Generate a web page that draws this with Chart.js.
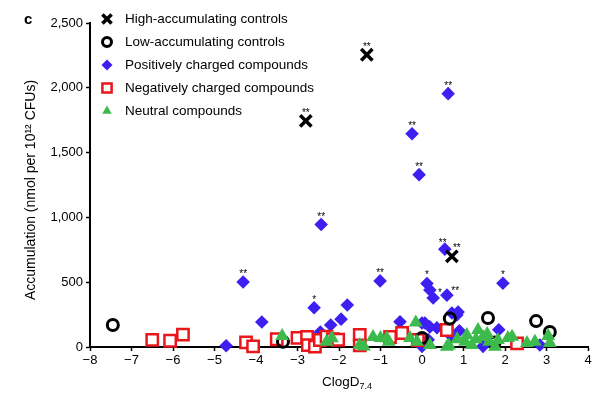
<!DOCTYPE html>
<html>
<head>
<meta charset="utf-8">
<script src="https://cdn.jsdelivr.net/npm/chart.js@4.4.0/dist/chart.umd.min.js"></script>
<style>
html, body { margin: 0; padding: 0; background: #fff; }
#wrap { width: 604px; height: 397px; position: relative; }
</style>
</head>
<body>
<div id="wrap"><canvas id="myChart"></canvas></div>
<script>
// axis ticks
var xTicks = [-8, -7, -6, -5, -4, -3, -2, -1, 0, 1, 2, 3, 4];
var yTicks = [0, 500, 1000, 1500, 2000, 2500];

// series (x = ClogD7.4, y = accumulation)
var highCtrl = [
    {x: -2.8, y: 1745}, {x: -1.33, y: 2255}, {x: 0.72, y: 700}
];
var lowCtrl = [
    {x: -7.45, y: 170}, {x: -3.35, y: 40}, {x: 0.0, y: 70}, {x: 0.67, y: 220},
    {x: 1.59, y: 224}, {x: 1.75, y: 35}, {x: 2.75, y: 200}, {x: 3.08, y: 116}
];
var positive = [
    {x: -4.72, y: 10}, {x: -4.31, y: 502}, {x: -3.86, y: 193}, {x: -2.7, y: 0},
    {x: -2.6, y: 303}, {x: -2.45, y: 115}, {x: -2.43, y: 945}, {x: -2.2, y: 170},
    {x: -1.95, y: 215}, {x: -1.8, y: 324}, {x: -1.01, y: 510}, {x: -0.53, y: 195},
    {x: -0.24, y: 1645}, {x: -0.07, y: 1330}, {x: 0.0, y: 185}, {x: 0.0, y: 5},
    {x: 0.07, y: 185}, {x: 0.12, y: 490}, {x: 0.15, y: 55}, {x: 0.19, y: 440},
    {x: 0.19, y: 155}, {x: 0.27, y: 378}, {x: 0.36, y: 148}, {x: 0.55, y: 755},
    {x: 0.6, y: 400}, {x: 0.63, y: 1955}, {x: 0.72, y: 262}, {x: 0.84, y: 247},
    {x: 0.87, y: 270}, {x: 0.72, y: 80}, {x: 0.9, y: 125}, {x: 1.47, y: 5},
    {x: 1.85, y: 133}, {x: 1.95, y: 492}, {x: 2.84, y: 15}
];
var negative = [
    {x: -6.5, y: 55}, {x: -6.07, y: 48}, {x: -5.76, y: 95}, {x: -4.24, y: 35},
    {x: -4.07, y: 5}, {x: -3.5, y: 60}, {x: -3.0, y: 70}, {x: -2.77, y: 77},
    {x: -2.75, y: 15}, {x: -2.58, y: 3}, {x: -2.46, y: 54}, {x: -2.3, y: 80},
    {x: -2.15, y: 60}, {x: -2.02, y: 56}, {x: -1.5, y: 93}, {x: -1.5, y: 12},
    {x: -0.77, y: 77}, {x: -0.48, y: 108}, {x: -0.1, y: 54}, {x: 0.6, y: 131},
    {x: 2.29, y: 28}
];
var neutral = [
    {x: -3.37, y: 85}, {x: -2.3, y: 40}, {x: -2.17, y: 68}, {x: -1.5, y: 15},
    {x: -1.4, y: 3}, {x: -1.18, y: 77}, {x: -1.0, y: 70}, {x: -0.85, y: 68},
    {x: -0.8, y: 40}, {x: -0.29, y: 70}, {x: -0.15, y: 190}, {x: -0.12, y: 40},
    {x: 0.19, y: 15}, {x: 0.6, y: 2}, {x: 0.65, y: 12}, {x: 1.04, y: 40},
    {x: 1.08, y: 93}, {x: 1.2, y: 15}, {x: 1.3, y: 60}, {x: 1.35, y: 131},
    {x: 1.47, y: 77}, {x: 1.57, y: 100}, {x: 1.62, y: 40}, {x: 1.76, y: 2},
    {x: 1.83, y: 54}, {x: 2.07, y: 70}, {x: 2.17, y: 80}, {x: 2.53, y: 31},
    {x: 2.72, y: 40}, {x: 3.04, y: 85}, {x: 3.08, y: 31}, {x: 0.85, y: 60}
];

// significance marks, anchored at the point they belong to
var stars = [
    {x: -1.33, y: 2255, t: '**'}, {x: -2.8, y: 1745, t: '**'}, {x: 0.84, y: 700, t: '**'},
    {x: 0.63, y: 1955, t: '**'}, {x: -0.24, y: 1645, t: '**'}, {x: -0.07, y: 1330, t: '**'},
    {x: -2.43, y: 945, t: '**'}, {x: 0.5, y: 740, t: '**'}, {x: -4.31, y: 502, t: '**'},
    {x: -1.01, y: 510, t: '**'}, {x: -2.6, y: 303, t: '*'}, {x: 0.12, y: 490, t: '*'},
    {x: 0.43, y: 355, t: '*'}, {x: 0.8, y: 370, t: '**'}, {x: 1.95, y: 492, t: '*'}
];

var FONT = '"Liberation Sans", Arial, Helvetica, sans-serif';
var BLUE = '#3d1ff2', RED = '#e8171c', GREEN = '#3cbb4c';

var datasets = [
    {label: 'High-accumulating controls', data: highCtrl, pointStyle: 'crossRot',
     pointRadius: 8, borderColor: '#000', backgroundColor: '#000', pointBorderWidth: 3.5, order: 0},
    {label: 'Low-accumulating controls', data: lowCtrl, pointStyle: 'circle',
     pointRadius: 5.5, borderColor: '#000', backgroundColor: 'rgba(255,255,255,0)', pointBorderWidth: 3, order: 2},
    {label: 'Positively charged compounds', data: positive, pointStyle: 'rectRot',
     pointRadius: 6.8, borderColor: BLUE, backgroundColor: BLUE, pointBorderWidth: 0, order: 4},
    {label: 'Negatively charged compounds', data: negative, pointStyle: 'rect',
     pointRadius: 8, borderColor: RED, backgroundColor: '#fff', pointBorderWidth: 2.5, order: 3},
    {label: 'Neutral compounds', data: neutral, pointStyle: 'triangle',
     pointRadius: 8, borderColor: GREEN, backgroundColor: GREEN, pointBorderWidth: 0, order: 1}
];
datasets.forEach(function (ds) { ds.clip = false; });

var extras = {
    id: 'extras',
    afterDatasetsDraw: function (chart) {
        var ctx = chart.ctx, xs = chart.scales.x, ys = chart.scales.y;
        ctx.save();
        ctx.fillStyle = '#000';
        ctx.font = '10px ' + FONT;
        ctx.textAlign = 'center';
        ctx.textBaseline = 'alphabetic';
        stars.forEach(function (s) {
            ctx.fillText(s.t, xs.getPixelForValue(s.x), ys.getPixelForValue(s.y) - 5);
        });
        ctx.restore();
    },
    afterDraw: function (chart) {
        var ctx = chart.ctx, area = chart.chartArea;
        ctx.save();
        // legend
        var lx = area.left + 17, ly = area.top - 4;
        ctx.font = '13.5px ' + FONT;
        ctx.textBaseline = 'middle';
        ctx.textAlign = 'left';
        var legendSizes = [6.5, 4.5, 5.5, 6.5, 5.5];
        datasets.forEach(function (ds, i) {
            var y = ly + i * 23;
            ctx.fillStyle = ds.backgroundColor;
            ctx.strokeStyle = ds.borderColor;
            ctx.lineWidth = ds.pointBorderWidth;
            Chart.helpers.drawPoint(ctx, {pointStyle: ds.pointStyle, radius: legendSizes[i],
                rotation: 0, borderWidth: ds.pointBorderWidth}, lx, y);
            ctx.fillStyle = '#000';
            ctx.fillText(ds.label, lx + 18, y);
        });
        // panel letter
        ctx.font = 'bold 15px ' + FONT;
        ctx.fillText('c', 24, 20);
        // y title
        ctx.font = '14px ' + FONT;
        ctx.save();
        ctx.translate(31, 190);
        ctx.rotate(-Math.PI / 2);
        ctx.textAlign = 'center';
        ctx.fillText('Accumulation (nmol per 10\u00b9\u00b2 CFUs)', 0, 0);
        ctx.restore();
        // x title with subscript
        var main = 'ClogD', sub = '7.4';
        ctx.font = '13.5px ' + FONT;
        var w1 = ctx.measureText(main).width;
        ctx.font = '9px ' + FONT;
        var w2 = ctx.measureText(sub).width;
        var sx = 347 - (w1 + w2) / 2;
        ctx.textAlign = 'left';
        ctx.font = '13.5px ' + FONT;
        ctx.fillText(main, sx, 382);
        ctx.font = '9px ' + FONT;
        ctx.fillText(sub, sx + w1, 387);
        ctx.restore();
    }
};

var ctx = document.getElementById('myChart').getContext('2d');
var chart = new Chart(ctx, {
    type: 'scatter',
    data: {datasets: datasets},
    options: {
        responsive: true,
        maintainAspectRatio: false,
        animation: false,
        layout: {padding: {left: 0, top: 23, right: 16, bottom: 0}},
        scales: {
            x: {
                type: 'linear', min: -8, max: 4,
                afterFit: function (s) { s.height = 50; },
                afterBuildTicks: function (s) { s.ticks = xTicks.map(function (v) { return {value: v}; }); },
                ticks: {
                    color: '#000', font: {family: FONT, size: 13}, padding: 2, autoSkip: false, maxRotation: 0,
                    callback: function (v) { return v < 0 ? '\u2212' + Math.abs(v) : String(v); }
                },
                grid: {drawOnChartArea: false, drawTicks: true, tickLength: 4, tickColor: '#000', tickWidth: 1.5},
                border: {color: '#000', width: 2}
            },
            y: {
                type: 'linear', min: 0, max: 2500,
                afterFit: function (s) { s.width = 90; },
                afterBuildTicks: function (s) { s.ticks = yTicks.map(function (v) { return {value: v}; }); },
                ticks: {
                    color: '#000', font: {family: FONT, size: 13}, padding: 3, autoSkip: false,
                    callback: function (v) { return v.toLocaleString('en-US'); }
                },
                grid: {drawOnChartArea: false, drawTicks: true, tickLength: 4, tickColor: '#000', tickWidth: 1.5},
                border: {color: '#000', width: 2}
            }
        },
        plugins: {
            legend: {display: false},
            tooltip: {enabled: false}
        },
        elements: {point: {hoverRadius: 6}}
    },
    plugins: [extras]
});
</script>
</body>
</html>
